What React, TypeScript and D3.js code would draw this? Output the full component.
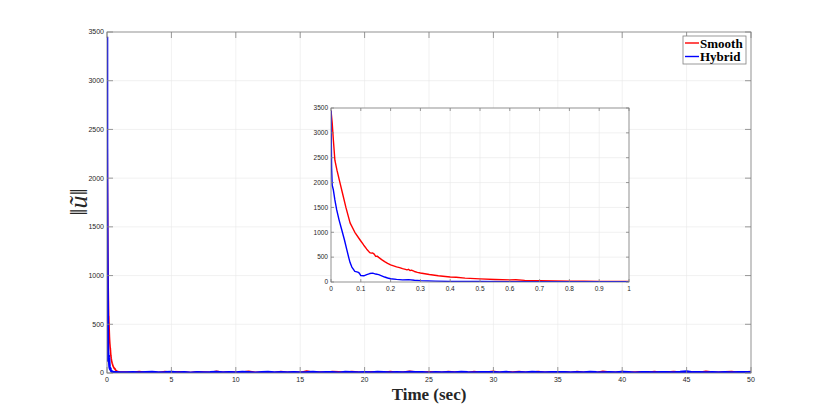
import React from "react";
import * as d3 from "d3";

// ---- data ----
const smoothEarlyT = [0, 0.004, 0.008, 0.013, 0.02, 0.03, 0.038, 0.05, 0.064, 0.08, 0.097, 0.11, 0.12, 0.13, 0.135, 0.14, 0.145, 0.15, 0.155, 0.16, 0.17, 0.18, 0.19, 0.2, 0.21, 0.22, 0.23, 0.24, 0.25, 0.255, 0.26, 0.265, 0.27, 0.28, 0.29, 0.3, 0.33, 0.36, 0.4, 0.42, 0.45, 0.5, 0.55, 0.6, 0.62, 0.65, 0.7, 0.75, 0.8, 0.85, 0.9, 0.95, 1.0];
const smoothEarlyV = [3450, 3200, 2850, 2450, 2250, 2000, 1800, 1500, 1190, 1000, 850, 740, 660, 590, 580, 585, 560, 515, 520, 495, 450, 410, 375, 345, 325, 305, 290, 268, 255, 245, 255, 230, 238, 212, 195, 180, 150, 125, 100, 95, 78, 62, 50, 42, 45, 32, 26, 20, 17, 15, 13, 12, 11];
const hybridEarlyT = [0, 0.002, 0.004, 0.008, 0.013, 0.019, 0.027, 0.036, 0.045, 0.053, 0.06, 0.064, 0.07, 0.08, 0.09, 0.095, 0.1, 0.11, 0.12, 0.13, 0.14, 0.15, 0.16, 0.17, 0.18, 0.19, 0.2, 0.22, 0.24, 0.26, 0.28, 0.3, 0.35, 0.4, 0.5, 0.6, 0.7, 0.8, 0.9, 1.0];
const hybridEarlyV = [3450, 2300, 1950, 1850, 1650, 1455, 1250, 1050, 850, 650, 480, 390, 300, 215, 200, 180, 130, 125, 150, 170, 178, 160, 148, 125, 100, 80, 65, 52, 42, 48, 35, 28, 18, 12, 9, 7, 6, 6, 5, 5];
// steady-state noise, sampled every 0.5 s from 1.5 s to 50 s
const smoothTail = [9, 6, 14, 8, 11, 5, 16, 7, 12, 9, 5, 13, 10, 6, 17, 8, 12, 6, 10, 18, 7, 9, 13, 5, 15, 8, 11, 6, 19, 8, 10, 6, 14, 12, 7, 16, 9, 5, 12, 10, 8, 14, 6, 11, 17, 9, 6, 13, 10, 7, 15, 9, 12, 5, 14, 8, 10, 18, 6, 12, 9, 14, 6, 10, 16, 7, 11, 9, 13, 5, 15, 8, 12, 6, 17, 10, 8, 14, 6, 10, 12, 8, 16, 7, 9, 14, 11, 6, 13, 8, 18, 10, 6, 12, 15, 8, 10, 14];
const hybridTail = [5, 8, 4, 6, 9, 4, 6, 10, 5, 7, 3, 8, 5, 7, 11, 4, 6, 5, 9, 6, 3, 7, 10, 4, 7, 5, 8, 4, 6, 11, 5, 8, 6, 3, 9, 7, 4, 7, 5, 9, 6, 4, 8, 5, 10, 6, 7, 3, 8, 5, 7, 4, 10, 6, 4, 8, 6, 7, 5, 9, 3, 7, 5, 9, 6, 4, 8, 6, 7, 4, 8, 5, 10, 6, 5, 7, 4, 9, 6, 3, 7, 8, 5, 6, 8, 4, 9, 16, 6, 7, 4, 7, 5, 8, 5, 6, 8, 6];
const mainXTicks = [0, 5, 10, 15, 20, 25, 30, 35, 40, 45, 50];
const yTicks = [0, 500, 1000, 1500, 2000, 2500, 3000, 3500];
const insetXTicks = [0, 0.1, 0.2, 0.3, 0.4, 0.5, 0.6, 0.7, 0.8, 0.9, 1];
const legendLabels = ["Smooth", "Hybrid"];
const seriesColors = ["#ff0000", "#0000ff"];

type P = [number, number];
const zip = (t: number[], v: number[]): P[] => t.map((x, i) => [x, v[i]]);
const tailT = smoothTail.map((_, i) => 1.5 + i * 0.5);
const smoothFull: P[] = [...zip(smoothEarlyT, smoothEarlyV), ...zip(tailT, smoothTail)];
const hybridFull: P[] = [...zip(hybridEarlyT, hybridEarlyV), ...zip(tailT, hybridTail)];
const smoothInset = zip(smoothEarlyT, smoothEarlyV);
const hybridInset = zip(hybridEarlyT, hybridEarlyV);

const TICK_FONT = "'Liberation Sans', Arial, sans-serif";
const SERIF = "'Liberation Serif', 'Times New Roman', serif";

function Axes(props: {
  x0: number; x1: number; y0: number; y1: number;
  xDomain: [number, number]; xTicks: number[];
  series: P[][]; tickLen: number; fontSize: number; widths: number[];
  fmtX: (v: number) => string; clipId: string;
}) {
  const { x0, x1, y0, y1, xDomain, xTicks, series, tickLen, fontSize, widths, fmtX, clipId } = props;
  const x = d3.scaleLinear().domain(xDomain).range([x0, x1]);
  const y = d3.scaleLinear().domain([0, 3500]).range([y1, y0]);
  const line = d3.line<P>().x((d) => x(d[0])).y((d) => y(d[1]));
  const axisColor = "#808080";
  const gridColor = "#e8e8e8";
  return (
    <g>
      <rect x={x0} y={y0} width={x1 - x0} height={y1 - y0} fill="#fff" />
      {xTicks.map((t) => (
        <line key={"gx" + t} x1={x(t)} x2={x(t)} y1={y0} y2={y1} stroke={gridColor} strokeWidth={0.6} />
      ))}
      {yTicks.map((t) => (
        <line key={"gy" + t} x1={x0} x2={x1} y1={y(t)} y2={y(t)} stroke={gridColor} strokeWidth={0.6} />
      ))}
      <clipPath id={clipId}>
        <rect x={x0} y={y0 - 2} width={x1 - x0} height={y1 - y0 + 2} />
      </clipPath>
      <g clipPath={`url(#${clipId})`}>
        {series.map((s, i) => (
          <path key={i} d={line(s) || ""} fill="none" stroke={seriesColors[i]} strokeWidth={widths[i]} strokeLinejoin="round" />
        ))}
      </g>
      <rect x={x0} y={y0} width={x1 - x0} height={y1 - y0} fill="none" stroke={axisColor} strokeWidth={0.8} />
      {xTicks.map((t) => (
        <g key={"tx" + t}>
          <line x1={x(t)} x2={x(t)} y1={y1} y2={y1 - tickLen} stroke={axisColor} strokeWidth={0.8} />
          <line x1={x(t)} x2={x(t)} y1={y0} y2={y0 + tickLen} stroke={axisColor} strokeWidth={0.8} />
          <text x={x(t)} y={y1 + fontSize + 2} fontSize={fontSize} fontFamily={TICK_FONT} fill="#262626" textAnchor="middle">
            {fmtX(t)}
          </text>
        </g>
      ))}
      {yTicks.map((t) => (
        <g key={"ty" + t}>
          <line x1={x0} x2={x0 + tickLen} y1={y(t)} y2={y(t)} stroke={axisColor} strokeWidth={0.8} />
          <line x1={x1} x2={x1 - tickLen} y1={y(t)} y2={y(t)} stroke={axisColor} strokeWidth={0.8} />
          <text x={x0 - 3} y={y(t)} dy="0.35em" fontSize={fontSize} fontFamily={TICK_FONT} fill="#262626" textAnchor="end">
            {t}
          </text>
        </g>
      ))}
    </g>
  );
}

export default function App() {
  return (
    <svg width={830} height={420} style={{ position: "absolute", left: 0, top: 0, background: "#fff" }}>
      <rect width={830} height={420} fill="#fff" />
      <Axes x0={107} x1={751} y0={32} y1={373} xDomain={[0, 50]} xTicks={mainXTicks}
        series={[smoothFull, hybridFull]} tickLen={6} fontSize={7} widths={[1.6, 2.6]}
        fmtX={(v) => String(v)} clipId="mainclip" />
      <Axes x0={331} x1={629} y0={108} y1={282} xDomain={[0, 1]} xTicks={insetXTicks}
        series={[smoothInset, hybridInset]} tickLen={3} fontSize={6.5} widths={[1.4, 1.4]}
        fmtX={(v) => d3.format("~g")(v)} clipId="insetclip" />
      {/* legend */}
      <rect x={683} y={36} width={63} height={28} fill="#fff" stroke="#808080" strokeWidth={0.8} />
      {legendLabels.map((l, i) => (
        <g key={l}>
          <line x1={685} x2={699} y1={43 + i * 13.5} y2={43 + i * 13.5} stroke={seriesColors[i]} strokeWidth={1.4} />
          <text x={700} y={43 + i * 13.5} dy="0.35em" fontSize={13} fontWeight="bold" fontFamily={SERIF} fill="#000">
            {l}
          </text>
        </g>
      ))}
      {/* axis labels */}
      <text x={429} y={400} textAnchor="middle" fontSize={17} fontWeight="bold" fontFamily={SERIF} fill="#262626">
        Time (sec)
      </text>
      <text transform="translate(87,202) rotate(-90)" textAnchor="middle" fontSize={26} fontFamily={SERIF} fill="#262626">
        ‖<tspan fontStyle="italic">ũ</tspan>‖
      </text>
    </svg>
  );
}
